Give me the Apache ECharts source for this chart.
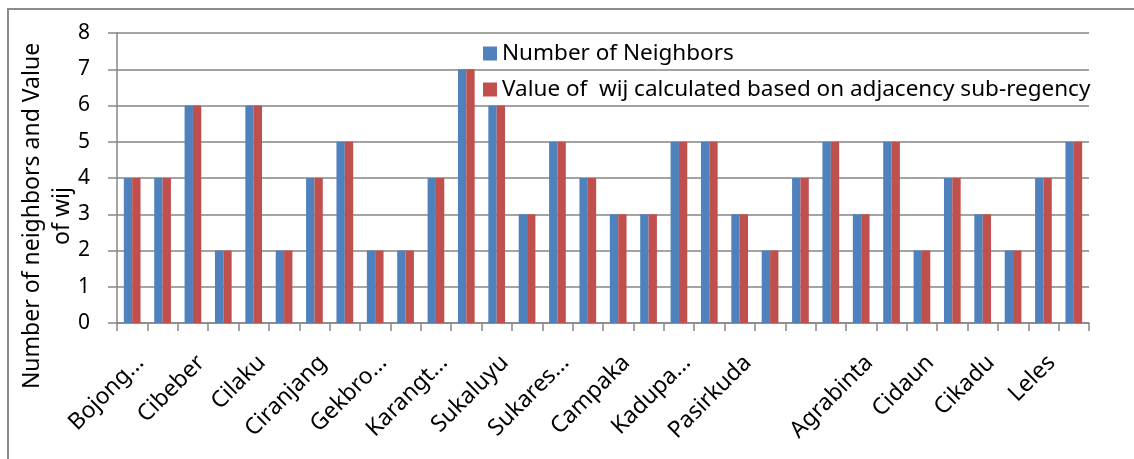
<!DOCTYPE html>
<html>
<head>
<meta charset="utf-8">
<script src="https://cdn.jsdelivr.net/npm/echarts@6/dist/echarts.min.js"></script>
<style>
  html, body { margin: 0; padding: 0; background: #fff; }
  #chart { width: 1134px; height: 459px; }
</style>
</head>
<body>
<div id="chart"></div>
<script>
// sub-districts (labels on every other one, like the original)
var districts = [
    'Bojong...', 'Haurwangi', 'Cibeber', 'Cianjur', 'Cilaku', 'Warungkondang',
    'Ciranjang', 'Cikalongkulon', 'Gekbro...', 'Mande', 'Karangt...', 'Cugenang',
    'Sukaluyu', 'Pacet', 'Sukares...', 'Cipanas', 'Campaka', 'Campakamulya',
    'Kadupa...', 'Cijati', 'Pasirkuda', 'Takokak', '', 'Tanggeung',
    'Agrabinta', 'Sindangbarang', 'Cidaun', 'Naringgul', 'Cikadu', 'Pagelaran',
    'Leles', 'Sukanagara'
];
var neighbors = [4, 4, 6, 2, 6, 2, 4, 5, 2, 2, 4, 7, 6, 3, 5, 4, 3, 3, 5, 5, 3, 2, 4, 5, 3, 5, 2, 4, 3, 2, 4, 5];
var wijValues = [4, 4, 6, 2, 6, 2, 4, 5, 2, 2, 4, 7, 6, 3, 5, 4, 3, 3, 5, 5, 3, 2, 4, 5, 3, 5, 2, 4, 3, 2, 4, 5];
var yTicks = [0, 8, 1]; // min, max, step

var font = 'Noto Sans';
var gridGrey = '#868686';

var myChart = echarts.init(document.getElementById('chart'));

var option = {
    animation: false,
    textStyle: { fontFamily: font },
    graphic: [{
        type: 'rect',
        silent: true,
        shape: { x: 8, y: 9, width: 1200, height: 500 },
        style: { fill: 'none', stroke: '#8c8c8c', lineWidth: 2 }
    }],
    legend: {
        orient: 'vertical',
        left: 478,
        top: 37,
        itemWidth: 14,
        itemHeight: 14,
        itemGap: 13,
        icon: 'rect',
        textStyle: { fontSize: 22.5, lineHeight: 22, color: '#000', fontFamily: font }
    },
    grid: { left: 117, top: 33, right: 45, bottom: 136, outerBoundsMode: 'none', containLabel: false },
    xAxis: {
        type: 'category',
        data: districts,
        axisLine: { lineStyle: { color: gridGrey, width: 1.5 } },
        axisTick: { show: true, interval: 0, length: 8, lineStyle: { color: gridGrey, width: 1.5 } },
        axisLabel: {
            interval: 1,
            rotate: 45,
            margin: 28,
            align: 'right',
            verticalAlign: 'top',
            fontSize: 23,
            color: '#000',
            fontFamily: font
        }
    },
    yAxis: {
        type: 'value',
        min: yTicks[0],
        max: yTicks[1],
        interval: yTicks[2],
        name: 'Number of neighbors and Value\nof wij',
        nameLocation: 'middle',
        nameRotate: 90,
        nameGap: 40,
        nameMoveOverlap: false,
        nameTextStyle: { fontSize: 23, color: '#000', lineHeight: 30, padding: [0, 76, 0, 0], fontFamily: font },
        axisLine: { show: true, lineStyle: { color: gridGrey, width: 1.5 } },
        axisTick: { show: true, length: 9, lineStyle: { color: gridGrey, width: 1.5 } },
        axisLabel: { fontSize: 21, color: '#000', margin: 27, fontFamily: font },
        splitLine: { lineStyle: { color: gridGrey, width: 1.5 } }
    },
    series: [{
        name: 'Number of Neighbors',
        type: 'bar',
        data: neighbors,
        barGap: '0%',
        barCategoryGap: '45%',
        itemStyle: { color: '#4F81BD' }
    }, {
        name: 'Value of  wij calculated based on adjacency sub-regency',
        type: 'bar',
        data: wijValues,
        itemStyle: { color: '#C0504D' }
    }]
};

myChart.setOption(option);
</script>
</body>
</html>
